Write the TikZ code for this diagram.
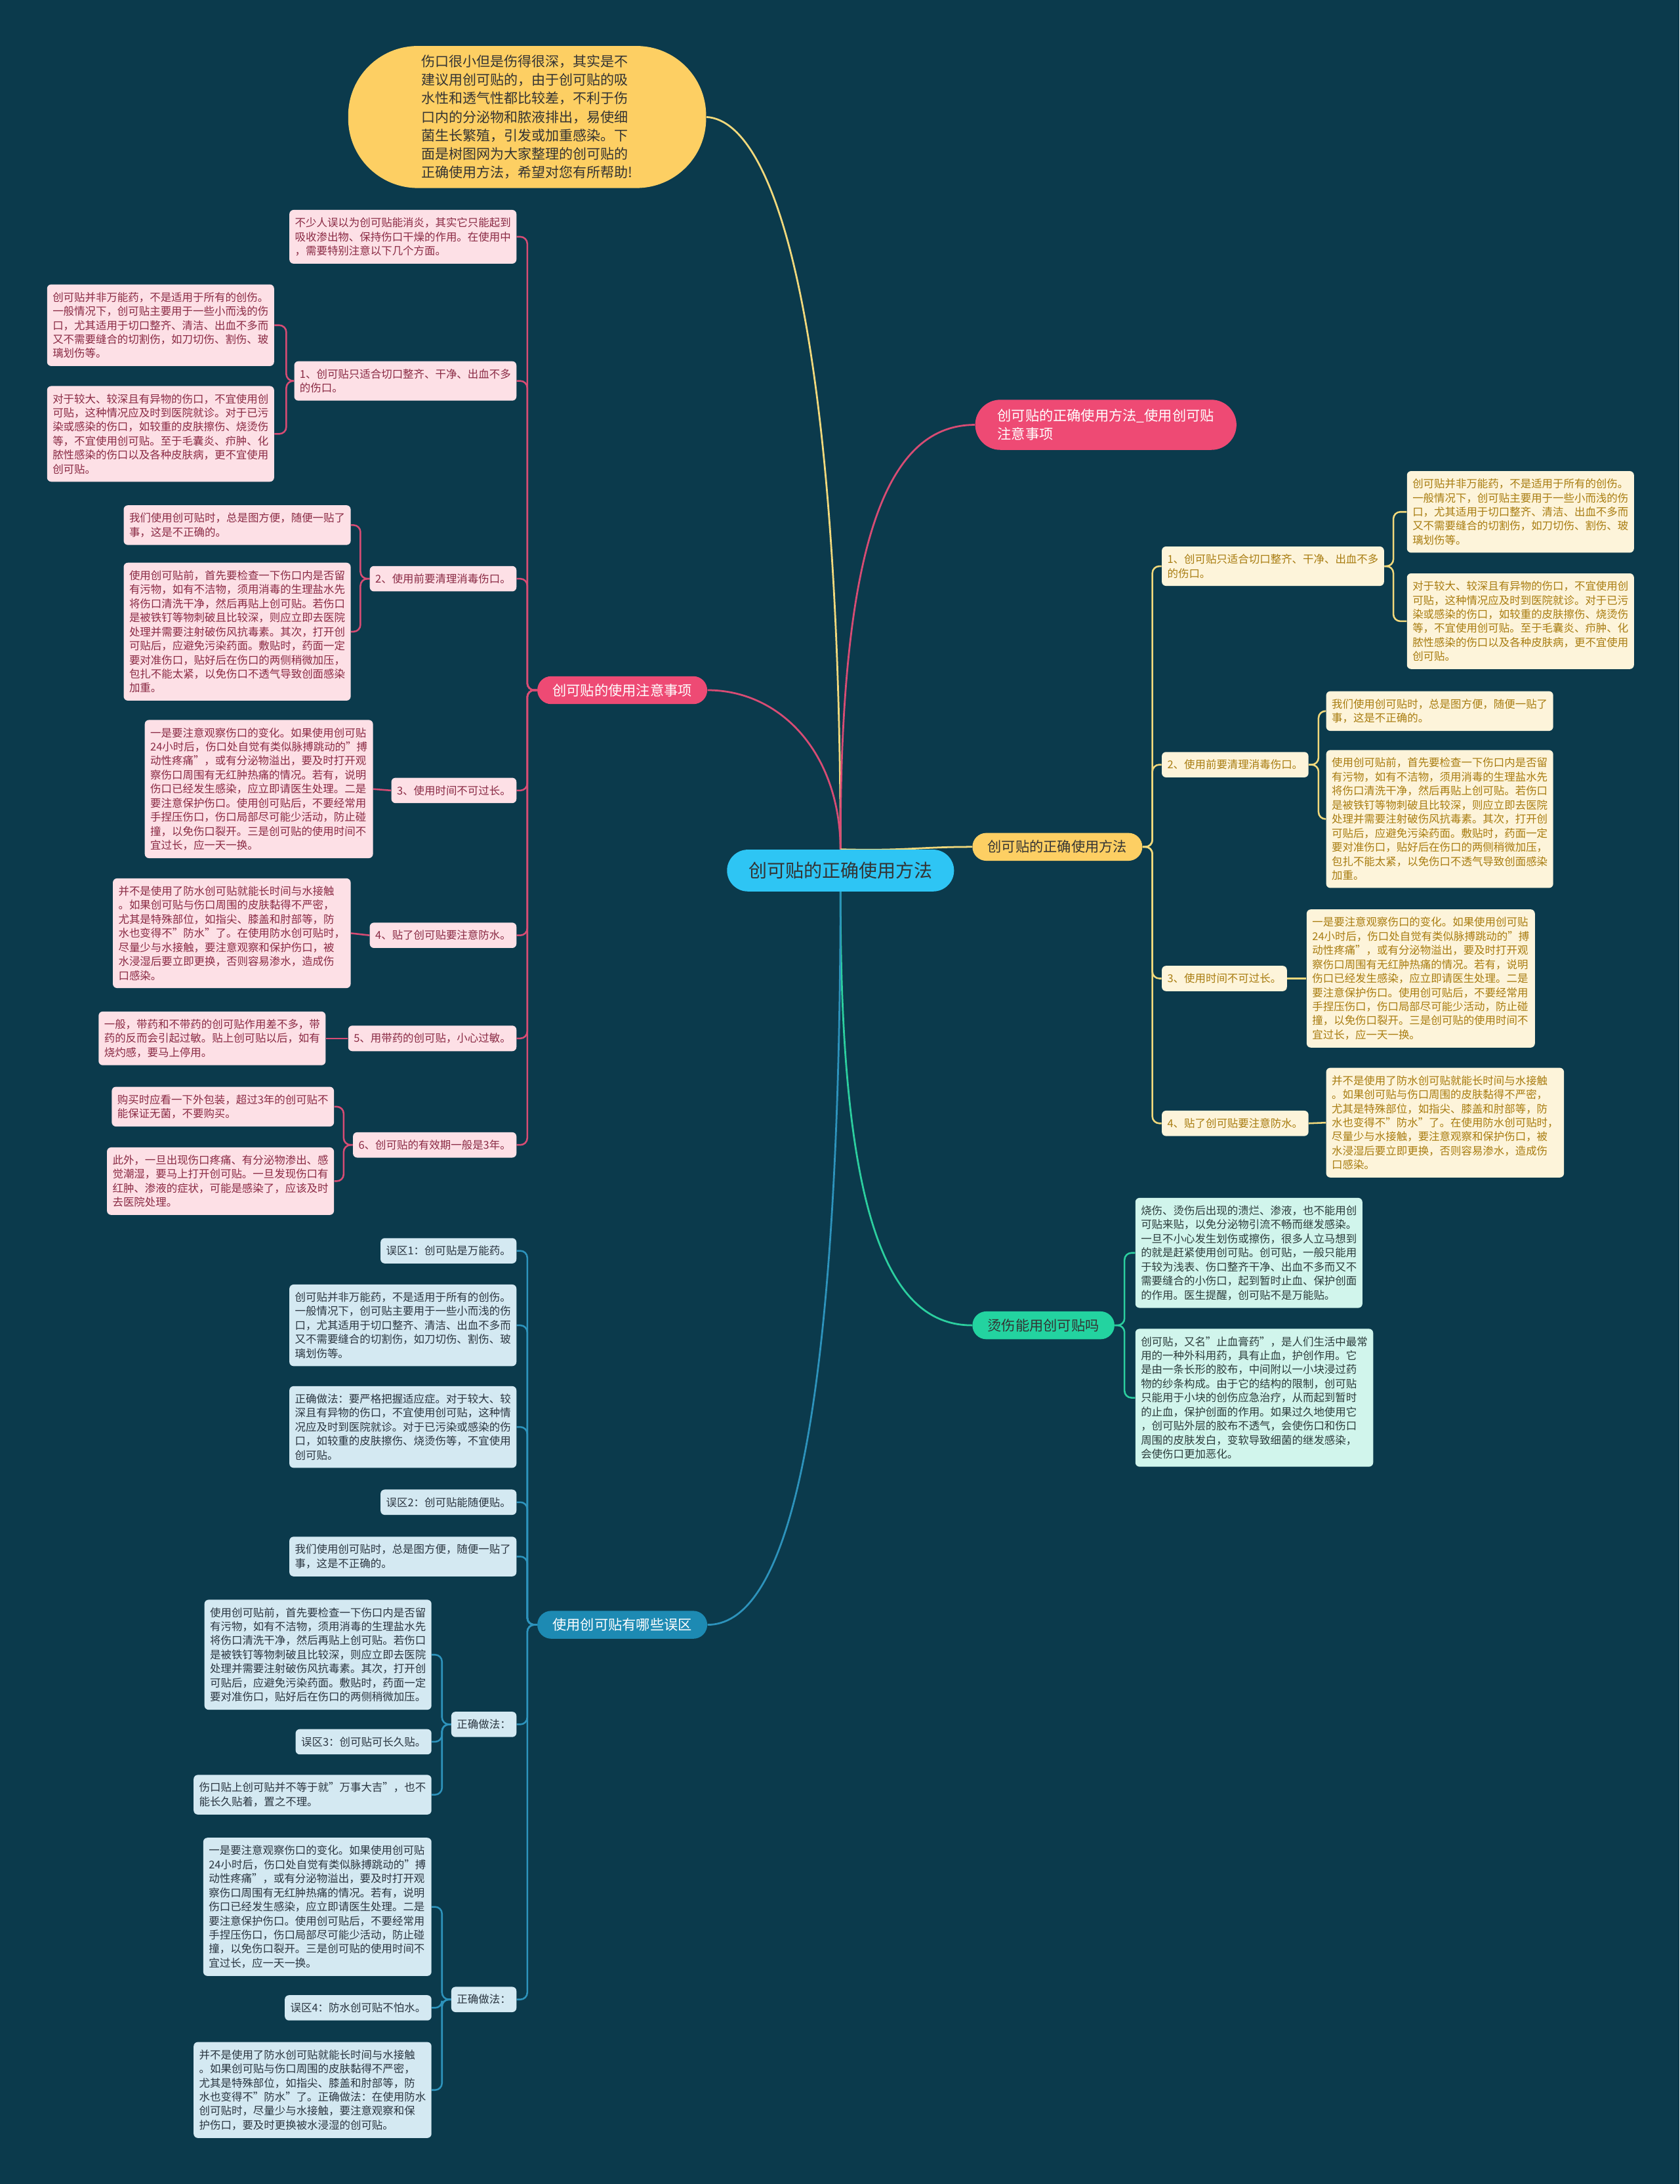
\documentclass[tikz,border=0pt]{standalone}
\usepackage{fontspec}
\setmainfont{Noto Sans CJK SC}

\definecolor{cBg}{HTML}{0B3A4C}
\definecolor{cRoot}{HTML}{2EC5F4}
\definecolor{cPink}{HTML}{EE4A74}
\definecolor{cYellow}{HTML}{FDCF63}
\definecolor{cMint}{HTML}{23D3A0}
\definecolor{cBlue}{HTML}{1D8AB3}
\definecolor{cPinkFill}{HTML}{FDE0E6}
\definecolor{cPinkText}{HTML}{8A2A44}
\definecolor{cPinkLine}{HTML}{D84C74}
\definecolor{cGoldFill}{HTML}{FDF4DA}
\definecolor{cGoldText}{HTML}{A87C10}
\definecolor{cGoldLine}{HTML}{F2D97C}
\definecolor{cMintFill}{HTML}{D1F5EC}
\definecolor{cMintText}{HTML}{2B3B3B}
\definecolor{cMintLine}{HTML}{2CCF9F}
\definecolor{cBlueFill}{HTML}{D4E9F2}
\definecolor{cBlueText}{HTML}{2A3540}
\definecolor{cBlueLine}{HTML}{2D93BC}

\newcommand\leaffont{\fontsize{7.75}{10.1}\selectfont}
\newcommand\pillfont{\fontsize{10}{13}\selectfont}
\newcommand\rootfont{\fontsize{13.2}{16}\selectfont}
\newcommand\introfont{\fontsize{9.9}{13.3}\selectfont}

% Các đoạn văn dùng lại nhiều lần
\newcommand\txtKhongVan{创可贴并非万能药，不是适用于所有的创伤。\\一般情况下，创可贴主要用于一些小而浅的伤\\口，尤其适用于切口整齐、清洁、出血不多而\\又不需要缝合的切割伤，如刀切伤、割伤、玻\\璃划伤等。}
\newcommand\txtVetLon{对于较大、较深且有异物的伤口，不宜使用创\\可贴，这种情况应及时到医院就诊。对于已污\\染或感染的伤口，如较重的皮肤擦伤、烧烫伤\\等，不宜使用创可贴。至于毛囊炎、疖肿、化\\脓性感染的伤口以及各种皮肤病，更不宜使用\\创可贴。}
\newcommand\txtTienLoi{我们使用创可贴时，总是图方便，随便一贴了\\事，这是不正确的。}
\newcommand\txtKiemTra{使用创可贴前，首先要检查一下伤口内是否留\\有污物，如有不洁物，须用消毒的生理盐水先\\将伤口清洗干净，然后再贴上创可贴。若伤口\\是被铁钉等物刺破且比较深，则应立即去医院\\处理并需要注射破伤风抗毒素。其次，打开创\\可贴后，应避免污染药面。敷贴时，药面一定\\要对准伤口，贴好后在伤口的两侧稍微加压，\\包扎不能太紧，以免伤口不透气导致创面感染\\加重。}
\newcommand\txtQuanSat{一是要注意观察伤口的变化。如果使用创可贴\\24小时后，伤口处自觉有类似脉搏跳动的"搏\\动性疼痛"，或有分泌物溢出，要及时打开观\\察伤口周围有无红肿热痛的情况。若有，说明\\伤口已经发生感染，应立即请医生处理。二是\\要注意保护伤口。使用创可贴后，不要经常用\\手捏压伤口，伤口局部尽可能少活动，防止碰\\撞，以免伤口裂开。三是创可贴的使用时间不\\宜过长，应一天一换。}
\newcommand\txtChongNuoc{并不是使用了防水创可贴就能长时间与水接触\\。如果创可贴与伤口周围的皮肤黏得不严密，\\尤其是特殊部位，如指尖、膝盖和肘部等，防\\水也变得不"防水"了。在使用防水创可贴时，\\尽量少与水接触，要注意观察和保护伤口，被\\水浸湿后要立即更换，否则容易渗水，造成伤\\口感染。}

\pgfdeclarelayer{nen}
\pgfdeclarelayer{duong}
\pgfsetlayers{nen,duong,main}

\tikzset{
  pill/.style={rounded corners=10pt, inner xsep=11pt, inner ysep=5pt, minimum height=20pt, font=\pillfont},
  leaf/.style={rounded corners=3pt, align=left, inner xsep=4pt, inner ysep=5.5pt, font=\leaffont},
  pinkleaf/.style={leaf, fill=cPinkFill, text=cPinkText},
  goldleaf/.style={leaf, fill=cGoldFill, text=cGoldText},
  mintleaf/.style={leaf, fill=cMintFill, text=cMintText},
  blueleaf/.style={leaf, fill=cBlueFill, text=cBlueText},
  pinkedge/.style={draw=cPinkLine, line width=1.2pt, rounded corners=5pt},
  goldedge/.style={draw=cGoldLine, line width=1.2pt, rounded corners=5pt},
  mintedge/.style={draw=cMintLine, line width=1.2pt, rounded corners=5pt},
  blueedge/.style={draw=cBlueLine, line width=1.2pt, rounded corners=5pt},
  mainedge/.style={line width=1.3pt},
}

\begin{document}
\begin{tikzpicture}[x=1pt, y=-1pt]
    \useasboundingbox (0,0) rectangle (1206,1568);
    \begin{pgfonlayer}{nen}
        \fill[cBg] (0,0) rectangle (1206,1568);
    \end{pgfonlayer}

    % Nút gốc và lời dẫn
    \node[fill=cRoot, rounded corners=15pt, minimum width=163pt, minimum height=30pt, font=\rootfont, text=black!80] (root) at (603.5,625) {创可贴的正确使用方法};
    \node[fill=cYellow, rounded corners=50pt, minimum width=257pt, minimum height=102pt, align=left, font=\introfont, text=black!80] (intro) at (378.5,84) {伤口很小但是伤得很深，其实是不\\建议用创可贴的，由于创可贴的吸\\水性和透气性都比较差，不利于伤\\口内的分泌物和脓液排出，易使细\\菌生长繁殖，引发或加重感染。下\\面是树图网为大家整理的创可贴的\\正确使用方法，希望对您有所帮助!};

    % Nhánh chính
    \node[pill, fill=cPink, text=white, anchor=west, align=left, inner xsep=16pt, rounded corners=18pt, minimum height=36pt] (title) at (700,305) {创可贴的正确使用方法\_使用创可贴\\注意事项};
    \node[pill, fill=cPink, text=white, anchor=east] (care) at (508,495.5) {创可贴的使用注意事项};
    \node[pill, fill=cYellow, text=black!80, anchor=west] (method) at (698,608) {创可贴的正确使用方法};
    \node[pill, fill=cMint, text=black!80, anchor=west] (burn) at (698,951.5) {烫伤能用创可贴吗};
    \node[pill, fill=cBlue, text=white, anchor=east] (myth) at (508,1166.5) {使用创可贴有哪些误区};

    % Nhánh hồng: chú ý khi dùng
    \node[pinkleaf, anchor=east] (ca) at (371,170) {不少人误以为创可贴能消炎，其实它只能起到\\吸收渗出物、保持伤口干燥的作用。在使用中\\，需要特别注意以下几个方面。};
    \node[pinkleaf, anchor=east] (cb) at (371,273.5) {1、创可贴只适合切口整齐、干净、出血不多\\的伤口。};
    \node[pinkleaf, anchor=east] (cb1) at (197,233.5) {\txtKhongVan};
    \node[pinkleaf, anchor=east] (cb2) at (197,311.5) {\txtVetLon};
    \node[pinkleaf, anchor=east] (cc) at (371,415.5) {2、使用前要清理消毒伤口。};
    \node[pinkleaf, anchor=east] (cc1) at (252,377) {\txtTienLoi};
    \node[pinkleaf, anchor=east] (cc2) at (252,453.5) {\txtKiemTra};
    \node[pinkleaf, anchor=east] (cd) at (371,567.5) {3、使用时间不可过长。};
    \node[pinkleaf, anchor=east] (cd1) at (268,566.5) {\txtQuanSat};
    \node[pinkleaf, anchor=east] (ce) at (371,671.5) {4、贴了创可贴要注意防水。};
    \node[pinkleaf, anchor=east] (ce1) at (252,670) {\txtChongNuoc};
    \node[pinkleaf, anchor=east] (cf) at (371,745.5) {5、用带药的创可贴，小心过敏。};
    \node[pinkleaf, anchor=east] (cf1) at (234,745.5) {一般，带药和不带药的创可贴作用差不多，带\\药的反而会引起过敏。贴上创可贴以后，如有\\烧灼感，要马上停用。};
    \node[pinkleaf, anchor=east] (cg) at (371,822) {6、创可贴的有效期一般是3年。};
    \node[pinkleaf, anchor=east] (cg1) at (240,794.5) {购买时应看一下外包装，超过3年的创可贴不\\能保证无菌，不要购买。};
    \node[pinkleaf, anchor=east] (cg2) at (240,848) {此外，一旦出现伤口疼痛、有分泌物渗出、感\\觉潮湿，要马上打开创可贴。一旦发现伤口有\\红肿、渗液的症状，可能是感染了，应该及时\\去医院处理。};

    % Nhánh vàng: cách dùng đúng
    \node[goldleaf, anchor=west] (ma) at (834,406.5) {1、创可贴只适合切口整齐、干净、出血不多\\的伤口。};
    \node[goldleaf, anchor=west] (ma1) at (1010,367.5) {\txtKhongVan};
    \node[goldleaf, anchor=west] (ma2) at (1010,446) {\txtVetLon};
    \node[goldleaf, anchor=west] (mb) at (834,549) {2、使用前要清理消毒伤口。};
    \node[goldleaf, anchor=west] (mb1) at (952,510.5) {\txtTienLoi};
    \node[goldleaf, anchor=west] (mb2) at (952,588) {\txtKiemTra};
    \node[goldleaf, anchor=west] (mc) at (834,702.5) {3、使用时间不可过长。};
    \node[goldleaf, anchor=west] (mc1) at (938,702.5) {\txtQuanSat};
    \node[goldleaf, anchor=west] (md) at (834,806.5) {4、贴了创可贴要注意防水。};
    \node[goldleaf, anchor=west] (md1) at (952,806) {\txtChongNuoc};

    % Nhánh xanh lá: vết bỏng
    \node[mintleaf, anchor=west] (ba) at (815,899.5) {烧伤、烫伤后出现的溃烂、渗液，也不能用创\\可贴来贴，以免分泌物引流不畅而继发感染。\\一旦不小心发生划伤或擦伤，很多人立马想到\\的就是赶紧使用创可贴。创可贴，一般只能用\\于较为浅表、伤口整齐干净、出血不多而又不\\需要缝合的小伤口，起到暂时止血、保护创面\\的作用。医生提醒，创可贴不是万能贴。};
    \node[mintleaf, anchor=west] (bb) at (815,1003.5) {创可贴，又名"止血膏药"，是人们生活中最常\\用的一种外科用药，具有止血，护创作用。它\\是由一条长形的胶布，中间附以一小块浸过药\\物的纱条构成。由于它的结构的限制，创可贴\\只能用于小块的创伤应急治疗，从而起到暂时\\的止血，保护创面的作用。如果过久地使用它\\，创可贴外层的胶布不透气，会使伤口和伤口\\周围的皮肤发白，变软导致细菌的继发感染，\\会使伤口更加恶化。};

    % Nhánh xanh dương: các hiểu lầm
    \node[blueleaf, anchor=east] (ya) at (371,898) {误区1：创可贴是万能药。};
    \node[blueleaf, anchor=east] (yb) at (371,951.5) {\txtKhongVan};
    \node[blueleaf, anchor=east] (yc) at (371,1024.5) {正确做法：要严格把握适应症。对于较大、较\\深且有异物的伤口，不宜使用创可贴，这种情\\况应及时到医院就诊。对于已污染或感染的伤\\口，如较重的皮肤擦伤、烧烫伤等，不宜使用\\创可贴。};
    \node[blueleaf, anchor=east] (yd) at (371,1078.5) {误区2：创可贴能随便贴。};
    \node[blueleaf, anchor=east] (ye) at (371,1117.5) {\txtTienLoi};
    \node[blueleaf, anchor=east] (yf) at (371,1238) {正确做法：};
    \node[blueleaf, anchor=east] (yf1) at (310,1188) {使用创可贴前，首先要检查一下伤口内是否留\\有污物，如有不洁物，须用消毒的生理盐水先\\将伤口清洗干净，然后再贴上创可贴。若伤口\\是被铁钉等物刺破且比较深，则应立即去医院\\处理并需要注射破伤风抗毒素。其次，打开创\\可贴后，应避免污染药面。敷贴时，药面一定\\要对准伤口，贴好后在伤口的两侧稍微加压。};
    \node[blueleaf, anchor=east] (yf2) at (310,1250.5) {误区3：创可贴可长久贴。};
    \node[blueleaf, anchor=east] (yf3) at (310,1288.5) {伤口贴上创可贴并不等于就"万事大吉"，也不\\能长久贴着，置之不理。};
    \node[blueleaf, anchor=east] (yg) at (371,1435.5) {正确做法：};
    \node[blueleaf, anchor=east] (yg1) at (310,1369) {\txtQuanSat};
    \node[blueleaf, anchor=east] (yg2) at (310,1441.5) {误区4：防水创可贴不怕水。};
    \node[blueleaf, anchor=east] (yg3) at (310,1500.5) {并不是使用了防水创可贴就能长时间与水接触\\。如果创可贴与伤口周围的皮肤黏得不严密，\\尤其是特殊部位，如指尖、膝盖和肘部等，防\\水也变得不"防水"了。正确做法：在使用防水\\创可贴时，尽量少与水接触，要注意观察和保\\护伤口，要及时更换被水浸湿的创可贴。};

    \begin{pgfonlayer}{duong}
    % Đường nối từ gốc
    \draw[mainedge, cGoldLine] (root.north) .. controls (603,250) and (560,87) .. (intro.east);
    \draw[mainedge, cPinkLine] (root.north) .. controls (603,380) and (640,305) .. (title.west);
    \draw[mainedge, cPinkLine] (root.north) .. controls (603,540) and (560,495.5) .. (care.east);
    \draw[mainedge, cGoldLine] (root.north) .. controls (650,611) and (660,608) .. (method.west);
    \draw[mainedge, cMintLine] (root.south) .. controls (603,880) and (640,951.5) .. (burn.west);
    \draw[mainedge, cBlueLine] (root.south) .. controls (603,1050) and (560,1166.5) .. (myth.east);

    % Đường nối nhánh hồng
    \draw[pinkedge] (care.west) -- ++(-7,0) |- (ca.east);
    \draw[pinkedge] (care.west) -- ++(-7,0) |- (cb.east);
    \draw[pinkedge] (care.west) -- ++(-7,0) |- (cc.east);
    \draw[pinkedge] (care.west) -- ++(-7,0) |- (cd.east);
    \draw[pinkedge] (care.west) -- ++(-7,0) |- (ce.east);
    \draw[pinkedge] (care.west) -- ++(-7,0) |- (cf.east);
    \draw[pinkedge] (care.west) -- ++(-7,0) |- (cg.east);
    \draw[pinkedge] (cb.west) -- ++(-5.5,0) |- (cb1.east);
    \draw[pinkedge] (cb.west) -- ++(-5.5,0) |- (cb2.east);
    \draw[pinkedge] (cc.west) -- ++(-6.5,0) |- (cc1.east);
    \draw[pinkedge] (cc.west) -- ++(-6.5,0) |- (cc2.east);
    \draw[pinkedge] (cd.west) -- (cd1.east);
    \draw[pinkedge] (ce.west) -- (ce1.east);
    \draw[pinkedge] (cf.west) -- (cf1.east);
    \draw[pinkedge] (cg.west) -- ++(-6.5,0) |- (cg1.east);
    \draw[pinkedge] (cg.west) -- ++(-6.5,0) |- (cg2.east);

    % Đường nối nhánh vàng
    \draw[goldedge] (method.east) -- ++(7,0) |- (ma.west);
    \draw[goldedge] (method.east) -- ++(7,0) |- (mb.west);
    \draw[goldedge] (method.east) -- ++(7,0) |- (mc.west);
    \draw[goldedge] (method.east) -- ++(7,0) |- (md.west);
    \draw[goldedge] (ma.east) -- ++(6.5,0) |- (ma1.west);
    \draw[goldedge] (ma.east) -- ++(6.5,0) |- (ma2.west);
    \draw[goldedge] (mb.east) -- ++(7,0) |- (mb1.west);
    \draw[goldedge] (mb.east) -- ++(7,0) |- (mb2.west);
    \draw[goldedge] (mc.east) -- (mc1.west);
    \draw[goldedge] (md.east) -- (md1.west);

    % Đường nối nhánh xanh lá
    \draw[mintedge] (burn.east) -- ++(7,0) |- (ba.west);
    \draw[mintedge] (burn.east) -- ++(7,0) |- (bb.west);

    % Đường nối nhánh xanh dương
    \draw[blueedge] (myth.west) -- ++(-7,0) |- (ya.east);
    \draw[blueedge] (myth.west) -- ++(-7,0) |- (yb.east);
    \draw[blueedge] (myth.west) -- ++(-7,0) |- (yc.east);
    \draw[blueedge] (myth.west) -- ++(-7,0) |- (yd.east);
    \draw[blueedge] (myth.west) -- ++(-7,0) |- (ye.east);
    \draw[blueedge] (myth.west) -- ++(-7,0) |- (yf.east);
    \draw[blueedge] (myth.west) -- ++(-7,0) |- (yg.east);
    \draw[blueedge] (yf.west) -- ++(-6.5,0) |- (yf1.east);
    \draw[blueedge] (yf.west) -- ++(-6.5,0) |- (yf2.east);
    \draw[blueedge] (yf.west) -- ++(-6.5,0) |- (yf3.east);
    \draw[blueedge] (yg.west) -- ++(-6.5,0) |- (yg1.east);
    \draw[blueedge] (yg.west) -- ++(-6.5,0) |- (yg2.east);
    \draw[blueedge] (yg.west) -- ++(-6.5,0) |- (yg3.east);
    \end{pgfonlayer}
\end{tikzpicture}
\end{document}
